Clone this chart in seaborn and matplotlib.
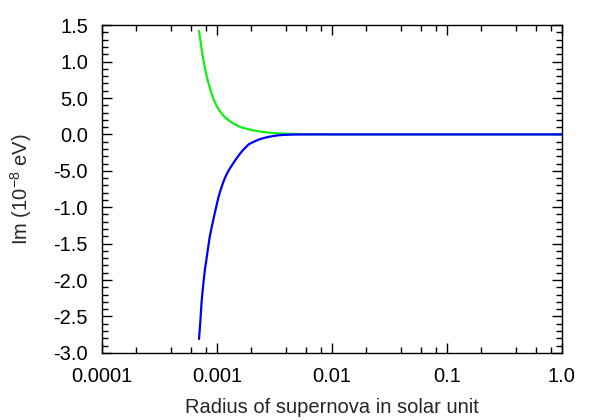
import matplotlib
matplotlib.use('Agg')
import matplotlib.pyplot as plt
import matplotlib.ticker as mticker
import seaborn as sns

# values
radius_green = [0.0007, 0.000715, 0.00073, 0.000745, 0.00076, 0.00078, 0.0008, 0.00082,
                0.00084, 0.00087, 0.0009, 0.00094, 0.00099, 0.00104, 0.0011, 0.00115,
                0.00121, 0.0013, 0.0014, 0.00148, 0.00158, 0.0017, 0.0019, 0.002,
                0.0022, 0.0024, 0.0027, 0.003, 0.0033, 0.0037, 0.0042, 0.0047,
                0.0053, 0.0062, 0.0075, 0.01, 0.1, 1.0]
im_green = [1.42, 1.32, 1.22, 1.13, 1.04, 0.95, 0.86, 0.79,
            0.72, 0.64, 0.56, 0.48, 0.40, 0.34, 0.29, 0.25,
            0.22, 0.18, 0.15, 0.127, 0.107, 0.088, 0.07, 0.059,
            0.048, 0.038, 0.028, 0.021, 0.016, 0.011, 0.008, 0.006,
            0.004, 0.002, 0.001, 0.0, 0.0, 0.0]

radius_blue = [0.0007, 0.00071, 0.00072, 0.000728, 0.000736, 0.000748, 0.00076, 0.000773,
               0.000787, 0.00081, 0.00083, 0.00085, 0.000869, 0.0009, 0.00093, 0.00096,
               0.00099, 0.00103, 0.00108, 0.001135, 0.00119, 0.00125, 0.00132, 0.00139,
               0.0015, 0.0016, 0.0017, 0.00181, 0.0019, 0.0021, 0.0023, 0.00253,
               0.0028, 0.0031, 0.0034, 0.00377, 0.0045, 0.0055, 0.007, 0.01,
               0.1, 1.0]
im_blue = [-2.81, -2.68, -2.55, -2.43, -2.31, -2.19, -2.08, -1.97,
           -1.86, -1.73, -1.61, -1.50, -1.40, -1.28, -1.18, -1.08,
           -0.99, -0.87, -0.76, -0.66, -0.58, -0.51, -0.45, -0.395,
           -0.32, -0.26, -0.21, -0.167, -0.135, -0.10, -0.073, -0.052,
           -0.035, -0.022, -0.013, -0.007, -0.003, -0.001, 0.0, 0.0,
           0.0, 0.0]

x_ticks = [0.0001, 0.001, 0.01, 0.1, 1.0]
x_labels = ['0.0001', '0.001', '0.01', '0.1', '1.0']
y_ticks = [1.5, 1.0, 0.5, 0.0, -0.5, -1.0, -1.5, -2.0, -2.5, -3.0]
y_labels = ['1.5', '1.0', '5.0', '0.0', '-5.0', '-1.0', '-1.5', '-2.0', '-2.5', '-3.0']

sns.set_style('ticks')
plt.rcParams['font.family'] = ['Liberation Sans', 'DejaVu Sans']
plt.rcParams['mathtext.default'] = 'regular'
plt.rcParams['axes.unicode_minus'] = False

fig = plt.figure(figsize=(5.99, 4.2), dpi=100)
ax = fig.add_axes([0.170, 0.160, 0.768, 0.780])

sns.lineplot(x=radius_green, y=im_green, color='#11ee11', linewidth=1.6,
             estimator=None, sort=False, ax=ax)
sns.lineplot(x=radius_blue, y=im_blue, color='#0000ff', linewidth=1.6,
             estimator=None, sort=False, ax=ax)

ax.set_xscale('log')
ax.set_xlim(0.0001, 1.0)
ax.set_ylim(-3.0, 1.5)
ax.set_xticks(x_ticks)
ax.set_xticklabels(x_labels)
ax.xaxis.set_minor_locator(mticker.LogLocator(base=10, subs=[2, 4, 6, 8]))
ax.xaxis.set_minor_formatter(mticker.NullFormatter())
ax.set_yticks(y_ticks)
ax.set_yticklabels(y_labels)
ax.yaxis.set_minor_locator(mticker.MultipleLocator(0.1))

for side in ['top', 'right', 'left', 'bottom']:
    ax.spines[side].set_visible(True)
    ax.spines[side].set_linewidth(1.0)
    ax.spines[side].set_color('black')
ax.tick_params(which='both', direction='in', top=True, right=True, colors='black',
               labelsize=14.5, width=1.0)
ax.tick_params(which='major', length=7.5)
ax.tick_params(axis='y', which='major', pad=10)
ax.tick_params(axis='x', which='major', pad=10)
ax.tick_params(which='minor', length=4)

ax.set_xlabel('Radius of supernova in solar unit', fontsize=14.5, labelpad=9)
ax.set_ylabel('Im (10$^{-8}$ eV)', fontsize=14.5, labelpad=14)

fig.savefig('out.png', dpi=100)
